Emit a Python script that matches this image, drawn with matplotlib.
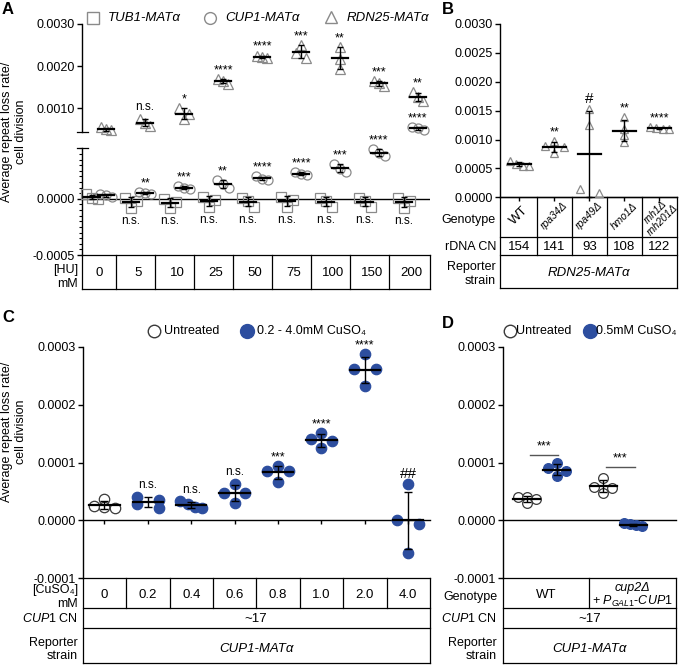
import numpy as np
import matplotlib.pyplot as plt
from matplotlib.ticker import MultipleLocator, FormatStrFormatter

plt.rcParams['font.family'] = ['Liberation Sans', 'DejaVu Sans']
plt.rcParams['mathtext.fontset'] = 'custom'
plt.rcParams['mathtext.rm'] = 'Liberation Sans'
plt.rcParams['mathtext.it'] = 'Liberation Sans:italic'
plt.rcParams['axes.linewidth'] = 1.0

# ---------------- data ----------------
# A: repeat loss rate vs hydroxyurea, 3 replicates per reporter
hu_mM = ['0', '5', '10', '25', '50', '75', '100', '150', '200']
tub1 = [[0.00004, 0.00001, 0.0], [0.00001, -0.00002, -0.00008],
        [0.0, -0.00003, -0.00008], [0.00002, -0.00001, -0.00007],
        [0.00001, -0.00002, -0.00007], [0.00002, -0.00001, -0.00007],
        [0.00001, -0.00002, -0.00007], [0.00001, -0.00002, -0.00007],
        [0.00001, -0.00002, -0.00008]]
cup1 = [[0.00004, 0.00003, 0.00002], [0.00006, 0.00005, 0.00004],
        [0.00011, 0.0001, 0.00009], [0.00017, 0.00013, 0.0001],
        [0.0002, 0.00018, 0.00017], [0.00024, 0.00022, 0.00021],
        [0.00031, 0.00027, 0.00024], [0.00044, 0.00041, 0.00038],
        [0.00056, 0.00053, 0.0005]]
rdn25 = [[0.00055, 0.00051, 0.00048], [0.00075, 0.00066, 0.00058],
         [0.0010, 0.00088, 0.00074], [0.0017, 0.00165, 0.00159],
         [0.00225, 0.00222, 0.0022], [0.0025, 0.00232, 0.0022],
         [0.00245, 0.00218, 0.00193], [0.00164, 0.0016, 0.00154],
         [0.00138, 0.00127, 0.00118]]
tub1_sig = ['', 'n.s.', 'n.s.', 'n.s.', 'n.s.', 'n.s.', 'n.s.', 'n.s.', 'n.s.']
cup1_sig = ['', '**', '***', '**', '****', '****', '***', '****', '****']
rdn25_sig = ['', 'n.s.', '*', '****', '****', '***', '**', '***', '**']

# B: RDN25-MATa reporter in mutants
genotypes_b = ['WT', 'rpa34Δ', 'rpa49Δ', 'hmo1Δ', 'rnh1Δ\nrnh201Δ']
rdna_cn = ['154', '141', '93', '108', '122']
rdn25_mut = [[0.00062, 0.00058, 0.00055, 0.00055],
             [0.00097, 0.00088, 0.00087, 0.00077],
             [0.00153, 0.00125, 0.00008, 0.00014],
             [0.00139, 0.00119, 0.00107, 0.00096],
             [0.00121, 0.00119, 0.00118, 0.0012]]
sig_b = ['', '**', '#', '**', '****']

# C: CUP1-MATa reporter vs CuSO4
cuso4_mM = ['0', '0.2', '0.4', '0.6', '0.8', '1.0', '2.0', '4.0']
cup1_cu = [[0.000022, 0.000037, 0.000025, 0.000023],
           [0.000041, 0.000021, 0.000036, 0.000028],
           [0.000033, 0.000021, 0.000028, 0.000023],
           [0.000063, 0.000030, 0.000048, 0.000048],
           [0.000094, 0.000067, 0.000085, 0.000085],
           [0.000151, 0.000125, 0.000140, 0.000137],
           [0.000287, 0.000232, 0.000261, 0.000261],
           [0.000063, -0.000007, 0.0, -0.000056]]
sig_c = ['', 'n.s.', 'n.s.', 'n.s.', '***', '****', '****', '##']

# D: WT vs cup2 deletion, untreated / 0.5 mM CuSO4
d_untreated = [[0.000041, 0.00004, 0.000037, 0.00003],
               [0.000073, 0.000058, 0.000056, 0.000048]]
d_cuso4 = [[0.000099, 0.00009, 0.000085, 0.000076],
           [-0.000005, -0.000007, -0.000008, -0.00001]]
sig_d = ['***', '***']

BLUE = '#2d4e9f'
GREY = '#8a8a8a'
OPEN = '#3a3a3a'

W, H = 680, 666
fig = plt.figure(figsize=(6.8, 6.66), dpi=100)
ov = fig.add_axes([0, 0, 1, 1])
ov.set_xlim(0, W)
ov.set_ylim(H, 0)
ov.axis('off')


def add_ax(x0, y0, x1, y1):
    ax = fig.add_axes([x0 / W, 1 - y1 / H, (x1 - x0) / W, (y1 - y0) / H])
    ax.patch.set_alpha(0)
    for s in ['top', 'right']:
        ax.spines[s].set_visible(False)
    ax.tick_params(axis='y', labelsize=9, length=3.5, width=1, pad=1.5)
    ax.tick_params(axis='y', which='minor', length=2, width=0.8)
    return ax


def to_px(ax, x):
    lo, hi = ax.get_xlim()
    bb = ax.get_position()
    return (bb.x0 + (x - lo) / (hi - lo) * bb.width) * W


def swarm(vals, tol, w):
    vals = np.asarray(vals, float)
    order = np.argsort(-vals, kind='stable')
    groups, cur = [], [order[0]]
    for i in order[1:]:
        if vals[cur[-1]] - vals[i] < tol:
            cur.append(i)
        else:
            groups.append(cur)
            cur = [i]
    groups.append(cur)
    offs = np.zeros(len(vals))
    for g in groups:
        if len(g) > 1:
            offs[g] = np.linspace(-w, w, len(g))
    return offs


def draw_group(pick, x, vals, marker, mfc, mec, ms, tol, w, half, cap, mew=0.9):
    vals = np.asarray(vals, float)
    offs = swarm(vals, tol, w)
    for xo, v in zip(offs, vals):
        pick(v).plot(x + xo, v, marker=marker, ls='none', mfc=mfc, mec=mec,
                     ms=ms, mew=mew, clip_on=False, zorder=3)
    m, sd = vals.mean(), vals.std(ddof=1)
    ax = pick(m)
    ax.plot([x - half, x + half], [m, m], color='k', lw=1.6, clip_on=False, zorder=4)
    eb = ax.errorbar(x, m, yerr=sd, fmt='none', ecolor='k', elinewidth=1.0,
                     capsize=cap, capthick=1.0, zorder=4)
    for a in eb.get_children():
        a.set_clip_on(False)
    return max(m + sd, vals.max()), min(m - sd, vals.min())


def sig(ax, x, y, s, below=False, fs=None):
    if not s:
        return
    if below:
        ax.annotate(s, (x, y), xytext=(0, -5), textcoords='offset points',
                    ha='center', va='top', fontsize=8.5, annotation_clip=False)
    else:
        dy = 4 if s == 'n.s.' else 2
        ax.annotate(s, (x, y), xytext=(0, dy), textcoords='offset points',
                    ha='center', va='bottom', fontsize=fs or (8.5 if s == 'n.s.' else 9),
                    annotation_clip=False)


def line(xs, ys):
    ov.plot(xs, ys, color='k', lw=0.9, solid_capstyle='projecting')


def table(x0, x1, rows):
    ys = [rows[0][0]] + [r[1] for r in rows]
    for y in ys:
        line([x0, x1], [y, y])
    line([x0, x0], [ys[0], ys[-1]])
    line([x1, x1], [ys[0], ys[-1]])
    for yt, yb, inner in rows:
        for xi in inner:
            line([xi, xi], [yt, yb])


# ---------------- panel A (broken axis) ----------------
ax_up = add_ax(82, 24, 430, 131.7)
ax_lo = add_ax(82, 148.3, 430, 255)
BRK = 0.00045
for a in (ax_up, ax_lo):
    a.set_xlim(-0.44, 8.49)
    a.set_xticks([])
    a.spines['bottom'].set_visible(False)
ax_up.set_ylim(BRK, 0.0030)
ax_up.set_yticks([0.001, 0.002, 0.003])
ax_up.yaxis.set_major_formatter(FormatStrFormatter('%.4f'))
ax_lo.set_ylim(-0.0005, BRK)
ax_lo.set_yticks([-0.0005, 0.0])
ax_lo.yaxis.set_major_formatter(FormatStrFormatter('%.4f'))
ax_lo.yaxis.set_minor_locator(MultipleLocator(0.00005))
ax_lo.axhline(0, color='k', lw=1.0, zorder=1)


def pick_a(v):
    return ax_up if v >= BRK else ax_lo


for i in range(len(hu_mM)):
    top, bot = draw_group(lambda v: ax_lo, i - 0.18, tub1[i], 's', 'none', GREY, 6.5,
                          0.00005, 0.15, 0.2, 2.5)
    sig(ax_lo, i - 0.18, bot, tub1_sig[i], below=True)
    top, bot = draw_group(pick_a, i + 0.18, cup1[i], 'o', 'none', GREY, 6.5,
                          0.00005, 0.15, 0.2, 2.5)
    sig(pick_a(top), i + 0.18, top, cup1_sig[i])
    top, bot = draw_group(pick_a, i + 0.18, rdn25[i], '^', 'none', GREY, 6.5,
                          0.00014, 0.12, 0.2, 2.5)
    sig(pick_a(top), i + 0.18, top, rdn25_sig[i])

line([77, 88], [131.7, 131.7])
line([77, 88], [148.3, 148.3])
table(82, 430, [(255, 289, [to_px(ax_lo, k + 0.44) for k in range(8)])])
for i, lab in enumerate(hu_mM):
    ov.text(to_px(ax_lo, i), 272.5, lab, ha='center', va='center', fontsize=9.5)
ov.text(78, 277, '[HU]\nmM', ha='right', va='center', fontsize=9, linespacing=1.15)

ov.plot(93, 18, marker='s', ms=8.5, mfc='none', mec=GREY, mew=1)
ov.text(108, 18, 'TUB1-MATα', style='italic', ha='left', va='center', fontsize=9.5)
ov.plot(210, 18, marker='o', ms=8.5, mfc='none', mec=GREY, mew=1)
ov.text(225, 18, 'CUP1-MATα', style='italic', ha='left', va='center', fontsize=9.5)
ov.plot(331, 17, marker='^', ms=9, mfc='none', mec=GREY, mew=1)
ov.text(347, 18, 'RDN25-MATα', style='italic', ha='left', va='center', fontsize=9.5)

# ---------------- panel B ----------------
ax_b = add_ax(500, 24, 677, 197.3)
ax_b.set_xlim(-0.557, 4.5)
ax_b.set_ylim(0, 0.0030)
ax_b.set_yticks(np.arange(0, 0.00301, 0.0005))
ax_b.yaxis.set_major_formatter(FormatStrFormatter('%.4f'))
ax_b.set_xticks(range(len(genotypes_b)))
ax_b.set_xticklabels([])
ax_b.tick_params(axis='x', length=3, width=1)
for i in range(len(genotypes_b)):
    top, bot = draw_group(lambda v: ax_b, i, rdn25_mut[i], '^', 'none', GREY, 5.5,
                          0.00007, 0.26, 0.34, 2.5)
    sig(ax_b, i, top, sig_b[i], fs=11 if sig_b[i] == '#' else None)

b_in = [to_px(ax_b, k + 0.5) for k in range(4)]
table(500, 677, [(197.3, 236.7, b_in), (236.7, 255, b_in), (255, 288.3, [])])
for i, g in enumerate(genotypes_b):
    if g == 'WT':
        ov.text(to_px(ax_b, i), 216, g, rotation=45, ha='center', va='center', fontsize=9.5)
    else:
        ov.text(to_px(ax_b, i), 216, g, rotation=45, ha='center', va='center', fontsize=7.5,
                style='italic', linespacing=1.0, multialignment='center')
    ov.text(to_px(ax_b, i), 246.5, rdna_cn[i], ha='center', va='center', fontsize=9.5)
ov.text(589, 272.5, 'RDN25-MATα', style='italic', ha='center', va='center', fontsize=9.5)
ov.text(496, 220, 'Genotype', ha='right', va='center', fontsize=9)
ov.text(496, 246.5, 'rDNA CN', ha='right', va='center', fontsize=9)
ov.text(496, 274, 'Reporter\nstrain', ha='right', va='center', fontsize=9,
        linespacing=1.2, multialignment='right')

# ---------------- panel C ----------------
ax_c = add_ax(82.7, 346.7, 430, 578.3)
ax_c.set_xlim(-0.5, 7.5)
ax_c.set_ylim(-0.0001, 0.0003)
ax_c.set_yticks(np.arange(-0.0001, 0.00031, 0.0001))
ax_c.yaxis.set_major_formatter(FormatStrFormatter('%.4f'))
ax_c.spines['bottom'].set_position(('data', 0))
ax_c.set_xticks(range(len(cuso4_mM)))
ax_c.set_xticklabels([])
ax_c.tick_params(axis='x', length=3, width=1)
for i in range(len(cuso4_mM)):
    if i == 0:
        mfc, mec = 'white', OPEN
    else:
        mfc, mec = BLUE, BLUE
    top, bot = draw_group(lambda v: ax_c, i, cup1_cu[i], 'o', mfc, mec, 7.5,
                          0.000008, 0.25, 0.35, 3)
    sig(ax_c, i, top, sig_c[i], fs=11 if sig_c[i] == '##' else None)

c_in = [to_px(ax_c, k + 0.5) for k in range(7)]
table(82.7, 430, [(578.3, 608.3, c_in), (608.3, 628.3, []), (628.3, 662.7, [])])
for i, lab in enumerate(cuso4_mM):
    ov.text(to_px(ax_c, i), 595, lab, ha='center', va='center', fontsize=9.5)
ov.text(256, 618.5, '~17', ha='center', va='center', fontsize=9.5)
ov.text(256, 648.5, 'CUP1-MATα', style='italic', ha='center', va='center', fontsize=9.5)
ov.text(78, 597, '[CuSO₄]\nmM', ha='right', va='center', fontsize=9,
        linespacing=1.15, multialignment='right')
ov.text(78, 618.5, r'$\mathit{CUP1}$ CN', ha='right', va='center', fontsize=9)
ov.text(78, 649.5, 'Reporter\nstrain', ha='right', va='center', fontsize=9,
        linespacing=1.2, multialignment='right')

ov.plot(154, 331, marker='o', ms=9, mfc='white', mec=OPEN, mew=1)
ov.text(164, 331, 'Untreated', ha='left', va='center', fontsize=9)
ov.plot(247, 331, marker='o', ms=10, mfc=BLUE, mec=BLUE)
ov.text(257, 331, '0.2 - 4.0mM CuSO₄', ha='left', va='center', fontsize=9)

# ---------------- panel D ----------------
ax_d = add_ax(502.7, 346.7, 676, 578.3)
ax_d.set_xlim(-0.8, 4.98)
ax_d.set_ylim(-0.0001, 0.0003)
ax_d.set_yticks(np.arange(-0.0001, 0.00031, 0.0001))
ax_d.yaxis.set_major_formatter(FormatStrFormatter('%.4f'))
ax_d.spines['bottom'].set_position(('data', 0))
ax_d.set_xticks([])
d_x = [0, 2.55]
d_bracket = [0.000113, 0.000092]
for j in range(2):
    x = d_x[j]
    draw_group(lambda v: ax_d, x, d_untreated[j], 'o', 'white', OPEN, 7,
               0.000006, 0.3, 0.45, 3)
    draw_group(lambda v: ax_d, x + 1, d_cuso4[j], 'o', BLUE, BLUE, 7,
               0.000006, 0.3, 0.45, 3)
    ax_d.plot([x + 0.1, x + 1.05], [d_bracket[j]] * 2, color='#555555', lw=1)
    ax_d.text(x + 0.57, d_bracket[j] + 0.000004, sig_d[j], ha='center', va='bottom', fontsize=9)

table(502.7, 676, [(578.3, 608.3, [589.3]), (608.3, 628.3, []), (628.3, 662.7, [])])
ov.text(546, 595, 'WT', ha='center', va='center', fontsize=9.5)
ov.text(632.5, 587.5, 'cup2Δ', style='italic', ha='center', va='center', fontsize=9)
ov.text(632.5, 601.5, r'+ $\mathit{P_{GAL1}}$-$\mathit{CUP1}$', ha='center', va='center',
        fontsize=9)
ov.text(589.3, 618.5, '~17', ha='center', va='center', fontsize=9.5)
ov.text(589.3, 648.5, 'CUP1-MATα', style='italic', ha='center', va='center', fontsize=9.5)
ov.text(497, 597, 'Genotype', ha='right', va='center', fontsize=9)
ov.text(497, 618.5, r'$\mathit{CUP1}$ CN', ha='right', va='center', fontsize=9)
ov.text(497, 649.5, 'Reporter\nstrain', ha='right', va='center', fontsize=9,
        linespacing=1.2, multialignment='right')

ov.plot(510, 331, marker='o', ms=9, mfc='white', mec=OPEN, mew=1)
ov.text(516, 331, 'Untreated', ha='left', va='center', fontsize=9)
ov.plot(590, 331, marker='o', ms=10, mfc=BLUE, mec=BLUE)
ov.text(596, 331, '0.5mM CuSO₄', ha='left', va='center', fontsize=9)

# ---------------- shared labels ----------------
for yc in (132, 432):
    ov.text(14, yc, 'Average repeat loss rate/\ncell division', rotation=90,
            ha='center', va='center', fontsize=9, linespacing=1.2, multialignment='center')
for lab, x, y in [('A', 8, 9), ('B', 448, 9), ('C', 8, 318), ('D', 448, 323)]:
    ov.text(x, y, lab, ha='center', va='center', fontsize=12, fontweight='bold')

fig.savefig('out.png', dpi=100)
